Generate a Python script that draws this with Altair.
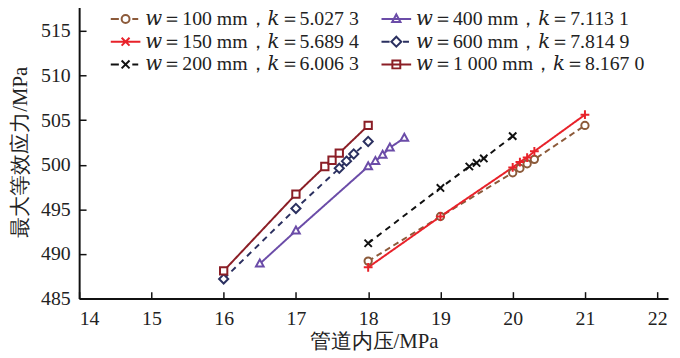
import altair as alt
import pandas as pd

series = [
    "𝑤＝100 mm，𝑘＝5.027 3",
    "𝑤＝150 mm，𝑘＝5.689 4",
    "𝑤＝200 mm，𝑘＝6.006 3",
    "𝑤＝400 mm，𝑘＝7.113 1",
    "𝑤＝600 mm，𝑘＝7.814 9",
    "𝑤＝1 000 mm，𝑘＝8.167 0",
]

x_100 = [18, 19, 20, 20.1, 20.2, 20.3, 21]
y_100 = [489.2, 494.2, 499.1, 499.6, 500.1, 500.6, 504.4]
x_150 = [18, 19, 20, 20.1, 20.2, 20.3, 21]
y_150 = [488.5, 494.2, 499.7, 500.3, 500.8, 501.5, 505.6]
x_200 = [18, 19, 19.4, 19.5, 19.6, 20]
y_200 = [491.2, 497.4, 499.8, 500.2, 500.7, 503.2]
x_400 = [16.5, 17, 18, 18.1, 18.2, 18.3, 18.5]
y_400 = [488.9, 492.6, 499.8, 500.4, 501.1, 501.9, 503.0]
x_600 = [16, 17, 17.6, 17.7, 17.8, 18]
y_600 = [487.2, 495.1, 499.6, 500.4, 501.2, 502.6]
x_1000 = [16, 17, 17.4, 17.5, 17.6, 18]
y_1000 = [488.1, 496.7, 499.8, 500.5, 501.3, 504.4]

xs = [x_100, x_150, x_200, x_400, x_600, x_1000]
ys = [y_100, y_150, y_200, y_400, y_600, y_1000]

x_ticks = [14, 15, 16, 17, 18, 19, 20, 21, 22]
y_ticks = [485, 490, 495, 500, 505, 510, 515]

rows = []
for s, xv, yv in zip(series, xs, ys):
    for a, b in zip(xv, yv):
        rows.append({"series": s, "p": a, "s": b})
df = pd.DataFrame(rows)

colors = ["#8c5a3a", "#e8222a", "#111111", "#6b4ca8", "#2b3060", "#8b1e26"]
dashes = [[6, 4], [1, 0], [6, 5], [1, 0], [6, 5], [1, 0]]

CIRCLE = "M1,0A1,1,0,1,1,-1,0A1,1,0,1,1,1,0Z"
PLUS = "M-1.2,0L1.2,0M0,-1.2L0,1.2"
XMARK = "M-1,-1L1,1M-1,1L1,-1"
TRI = "M0,-1.15L1.05,0.75L-1.05,0.75Z"
DIAM = "M0,-1.25L1.25,0L0,1.25L-1.25,0Z"
SQ = "M-1,-1L1,-1L1,1L-1,1Z"
shapes = [CIRCLE, PLUS, XMARK, TRI, DIAM, SQ]

SOLID = "M-3.75,0L3.75,0"
DASHED = "M-3.75,0L-1.7,0M1.7,0L3.2,0"
legend_shapes = [
    DASHED + CIRCLE,
    SOLID + XMARK,
    DASHED + XMARK,
    SOLID + TRI,
    DASHED + DIAM,
    SOLID + SQ,
]
legend_order = [series[0], series[3], series[1], series[4], series[2], series[5]]

FONT = "'Liberation Serif', 'Times New Roman', 'DejaVu Serif', serif"
W, H = 596, 297

xscale = alt.Scale(domain=[14, 22.15], nice=False, zero=False)
yscale = alt.Scale(domain=[485, 517.88], nice=False, zero=False)

color_nolegend = alt.Color(
    "series:N", scale=alt.Scale(domain=series, range=colors), legend=None
)
dash = alt.StrokeDash(
    "series:N", scale=alt.Scale(domain=series, range=dashes), legend=None
)

axis_style = dict(
    grid=False,
    labelFont=FONT,
    labelFontSize=20,
    labelColor="#222222",
    titleFont=FONT,
    titleFontSize=21,
    titleFontWeight="normal",
    titleColor="#222222",
    domainColor="#111111",
    domainWidth=2,
)

lines = alt.Chart(df).mark_line(strokeWidth=2).encode(
    x=alt.X(
        "p:Q",
        scale=xscale,
        axis=alt.Axis(
            title="管道内压/MPa", values=x_ticks, ticks=False,
            labelPadding=10, titlePadding=3, **axis_style,
        ),
    ),
    y=alt.Y(
        "s:Q",
        scale=yscale,
        axis=alt.Axis(
            title="最大等效应力/MPa", values=y_ticks, ticks=False,
            labelPadding=9, titlePadding=10, **axis_style,
        ),
    ),
    color=color_nolegend,
    strokeDash=dash,
    detail="series:N",
)

points = alt.Chart(df).mark_point(filled=False, fill="white", strokeWidth=2, size=55, opacity=1).encode(
    x=alt.X(
        "p:Q",
        scale=xscale,
        axis=alt.Axis(
            orient="top", offset=-H, values=x_ticks, labels=False, domain=False,
            ticks=True, tickSize=7, tickWidth=1.5, tickColor="#111111", grid=False, title=None,
        ),
    ),
    y=alt.Y(
        "s:Q",
        scale=yscale,
        axis=alt.Axis(
            orient="right", offset=-W, values=y_ticks, labels=False, domain=False,
            ticks=True, tickSize=7, tickWidth=1.5, tickColor="#111111", grid=False, title=None,
        ),
    ),
    color=color_nolegend,
    shape=alt.Shape("series:N", scale=alt.Scale(domain=series, range=shapes), legend=None),
)

legend_def = alt.Legend(
    title=None,
    orient="none",
    legendX=37,
    legendY=4,
    columns=2,
    columnPadding=19,
    rowPadding=3,
    labelFont=FONT,
    labelFontSize=20,
    labelColor="#222222",
    labelOffset=10,
    symbolStrokeWidth=2,
    symbolSize=64,
    symbolFillColor="white",
    symbolOpacity=1,
    labelLimit=400,
)

legend_layer = (
    alt.Chart(df)
    .transform_filter("false")
    .mark_point(filled=False, strokeWidth=2)
    .encode(
        x=alt.X("p:Q", scale=xscale, axis=None),
        y=alt.Y("s:Q", scale=yscale, axis=None),
        color=alt.Color(
            "series:N",
            scale=alt.Scale(domain=series, range=colors),
            sort=legend_order,
            legend=legend_def,
        ),
        shape=alt.Shape(
            "series:N",
            scale=alt.Scale(domain=series, range=legend_shapes),
            sort=legend_order,
            legend=legend_def,
        ),
    )
)

chart = (
    alt.layer(lines, points, legend_layer)
    .resolve_axis(x="independent", y="independent")
    .resolve_scale(shape="independent", color="independent")
    .properties(
        width=W,
        height=H,
        autosize=alt.AutoSizeParams(type="none"),
        padding={"left": 72, "top": -5, "right": 4, "bottom": 55},
        background="white",
    )
    .configure_view(stroke=None)
)

chart.save("out.html", embed_options={"renderer": "svg", "actions": False})
